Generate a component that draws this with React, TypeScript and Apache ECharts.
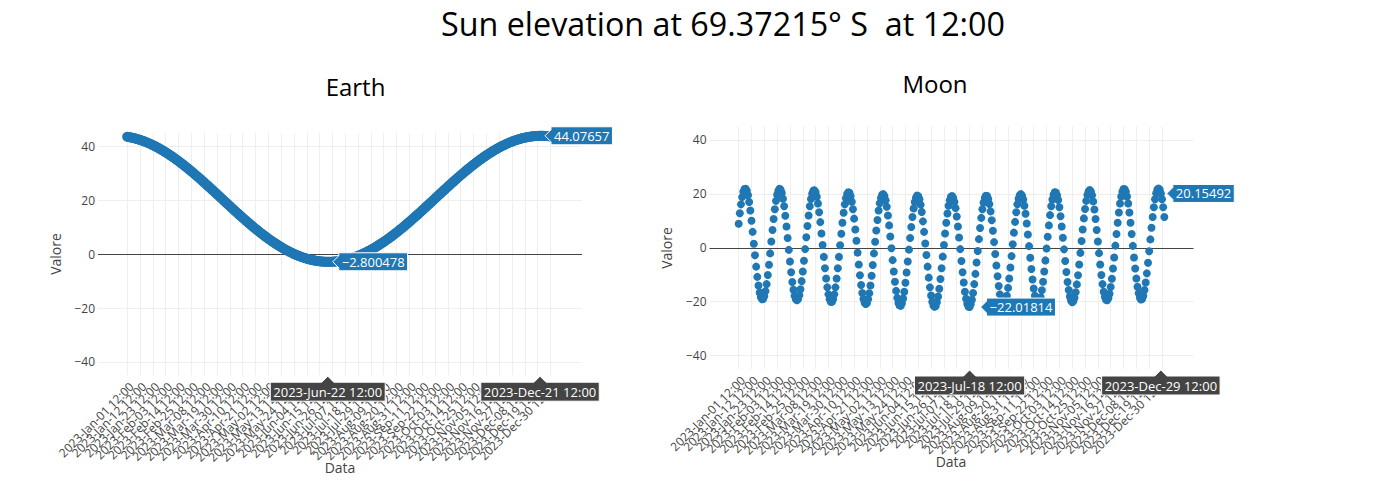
import React, { useEffect, useRef } from "react";
import * as echarts from "echarts";

const FONT = "'Open Sans', verdana, arial, sans-serif";

const MONTHS = ["Jan", "Feb", "Mar", "Apr", "May", "Jun", "Jul", "Aug", "Sep", "Oct", "Nov", "Dec"];
const MONTH_DAYS = [31, 28, 31, 30, 31, 30, 31, 31, 30, 31, 30, 31];

function buildCategories(): string[] {
  const out: string[] = [];
  for (let m = 0; m < 12; m++) {
    for (let d = 1; d <= MONTH_DAYS[m]; d++) {
      out.push(`2023-${MONTHS[m]}-${String(d).padStart(2, "0")} 12:00`);
    }
  }
  out.push("2024-Jan-01 12:00");
  return out;
}

const categories = buildCategories();

// every 11th category carries a tick label (split into two interleaved sets)
const tickIndex = [0, 11, 22, 33, 44, 55, 66, 77, 88, 99, 110, 121, 132, 143, 154, 165, 176, 187, 198, 209, 220, 231, 242, 253, 264, 275, 286, 297, 308, 319, 330, 341, 352, 363];
const tickIndexA = [0, 22, 44, 66, 88, 110, 132, 154, 176, 198, 220, 242, 264, 286, 308, 330, 352];
const tickIndexB = [11, 33, 55, 77, 99, 121, 143, 165, 187, 209, 231, 253, 275, 297, 319, 341, 363];
const yTicks = [-40, -20, 0, 20, 40];

const earthValues = [
  43.72, 43.65, 43.57, 43.49, 43.39, 43.29, 43.18, 43.08, 42.95, 42.82,
  42.70, 42.55, 42.41, 42.26, 42.10, 41.93, 41.76, 41.59, 41.40, 41.21,
  41.01, 40.81, 40.60, 40.39, 40.17, 39.94, 39.71, 39.47, 39.23, 38.98,
  38.73, 38.47, 38.21, 37.93, 37.66, 37.38, 37.09, 36.81, 36.51, 36.21,
  35.91, 35.60, 35.29, 34.97, 34.65, 34.33, 33.99, 33.67, 33.33, 32.98,
  32.64, 32.29, 31.94, 31.58, 31.23, 30.87, 30.50, 30.13, 29.76, 29.39,
  29.01, 28.64, 28.25, 27.87, 27.49, 27.10, 26.72, 26.32, 25.93, 25.53,
  25.14, 24.74, 24.35, 23.95, 23.55, 23.15, 22.74, 22.35, 21.94, 21.54,
  21.14, 20.73, 20.33, 19.92, 19.52, 19.11, 18.72, 18.31, 17.91, 17.52,
  17.11, 16.71, 16.32, 15.92, 15.53, 15.14, 14.74, 14.35, 13.97, 13.58,
  13.20, 12.81, 12.43, 12.06, 11.68, 11.31, 10.94, 10.57, 10.21, 9.86,
  9.50, 9.15, 8.79, 8.45, 8.10, 7.76, 7.43, 7.10, 6.77, 6.45,
  6.13, 5.81, 5.50, 5.20, 4.90, 4.60, 4.31, 4.02, 3.74, 3.46,
  3.19, 2.92, 2.66, 2.40, 2.15, 1.91, 1.67, 1.43, 1.21, 0.98,
  0.76, 0.55, 0.35, 0.15, -0.05, -0.24, -0.42, -0.58, -0.75, -0.92,
  -1.07, -1.22, -1.37, -1.50, -1.63, -1.76, -1.87, -1.98, -2.08, -2.18,
  -2.27, -2.35, -2.42, -2.49, -2.56, -2.62, -2.66, -2.70, -2.74, -2.77,
  -2.79, -2.80, -2.80,
  -2.80, -2.80, -2.79,
  -2.77, -2.74, -2.70, -2.66, -2.62, -2.56, -2.49, -2.42, -2.35, -2.27,
  -2.18, -2.08, -1.98, -1.87, -1.76, -1.63, -1.50, -1.37, -1.22, -1.07,
  -0.92, -0.75, -0.58, -0.42, -0.24, -0.05, 0.15, 0.35, 0.55, 0.76,
  0.98, 1.21, 1.43, 1.67, 1.91, 2.15, 2.40, 2.66, 2.92, 3.19,
  3.46, 3.74, 4.02, 4.31, 4.60, 4.90, 5.20, 5.50, 5.81, 6.13,
  6.45, 6.77, 7.10, 7.43, 7.76, 8.10, 8.45, 8.79, 9.15, 9.50,
  9.86, 10.21, 10.57, 10.94, 11.31, 11.68, 12.06, 12.43, 12.81, 13.20,
  13.58, 13.97, 14.35, 14.74, 15.14, 15.53, 15.92, 16.32, 16.71, 17.11,
  17.52, 17.91, 18.31, 18.72, 19.11, 19.52, 19.92, 20.33, 20.73, 21.14,
  21.54, 21.94, 22.35, 22.74, 23.15, 23.55, 23.95, 24.35, 24.74, 25.14,
  25.53, 25.93, 26.32, 26.72, 27.10, 27.49, 27.87, 28.25, 28.64, 29.01,
  29.39, 29.76, 30.13, 30.50, 30.87, 31.23, 31.58, 31.94, 32.29, 32.64,
  32.98, 33.33, 33.67, 33.99, 34.33, 34.65, 34.97, 35.29, 35.60, 35.91,
  36.21, 36.51, 36.81, 37.09, 37.38, 37.66, 37.93, 38.21, 38.47, 38.73,
  38.98, 39.23, 39.47, 39.71, 39.94, 40.17, 40.39, 40.60, 40.81, 41.01,
  41.21, 41.40, 41.59, 41.76, 41.93, 42.10, 42.26, 42.41, 42.55, 42.70,
  42.82, 42.95, 43.08, 43.18, 43.29, 43.39, 43.49, 43.57, 43.65, 43.72,
  43.79, 43.85, 43.90, 43.94, 43.98, 44.01, 44.04, 44.06, 44.08, 44.07,
  44.07, 44.06, 44.04, 44.01, 43.98, 43.94, 43.90, 43.85, 43.79, 43.72,
];

const moonValues = [
  8.9, 12.8, 16.1, 18.8, 20.8, 21.8, 21.9, 21.2, 19.5, 17.0,
  13.8, 10.0, 5.9, 1.5, -2.8, -7.0, -10.8, -14.0, -16.6, -18.3,
  -19.1, -19.0, -18.0, -16.1, -13.5, -10.1, -6.3, -2.1, 2.3, 6.6,
  10.7, 14.3, 17.4, 19.7, 21.2, 21.9, 21.5, 20.3, 18.2, 15.4,
  11.9, 7.9, 3.6, -0.8, -5.1, -9.1, -12.7, -15.6, -17.8, -19.1,
  -19.5, -19.0, -17.6, -15.4, -12.4, -8.8, -4.8, -0.5, 3.9, 8.1,
  12.0, 15.4, 18.1, 20.1, 21.2, 21.3, 20.6, 18.9, 16.4, 13.2,
  9.5, 5.3, 1.0, -3.4, -7.6, -11.4, -14.7, -17.3, -19.1, -20.1,
  -20.1, -19.1, -17.3, -14.7, -11.4, -7.6, -3.4, 0.9, 5.2, 9.3,
  13.0, 16.1, 18.4, 20.0, 20.6, 20.4, 19.2, 17.1, 14.3, 10.8,
  6.8, 2.6, -1.8, -6.2, -10.2, -13.8, -16.8, -19.0, -20.4, -20.9,
  -20.5, -19.1, -16.9, -14.0, -10.4, -6.4, -2.1, 2.2, 6.4, 10.3,
  13.8, 16.5, 18.5, 19.7, 19.9, 19.2, 17.6, 15.2, 12.0, 8.3,
  4.2, -0.2, -4.6, -8.8, -12.6, -16.0, -18.6, -20.5, -21.4, -21.5,
  -20.6, -18.8, -16.3, -13.0, -9.2, -5.1, -0.7, 3.6, 7.7, 11.4,
  14.6, 17.0, 18.6, 19.4, 19.1, 18.0, 16.0, 13.3, 9.8, 5.9,
  1.6, -2.7, -7.0, -11.1, -14.7, -17.7, -20.0, -21.4, -21.9, -21.6,
  -20.2, -18.1, -15.2, -11.6, -7.6, -3.3, 1.0, 5.3, 9.3, 12.7,
  15.6, 17.6, 18.9, 19.2, 18.5, 17.0, 14.7, 11.6, 7.9, 3.8,
  -0.5, -4.9, -9.1, -12.9, -16.3, -18.9, -20.8, -21.8, -22.02, -21.0,
  -19.3, -16.8, -13.5, -9.7, -5.5, -1.2, 3.2, 7.3, 11.1, 14.3,
  16.8, 18.5, 19.3, 19.2, 18.1, 16.2, 13.5, 10.2, 6.3, 2.1,
  -2.3, -6.6, -10.6, -14.2, -17.3, -19.6, -21.0, -21.6, -21.2, -19.9,
  -17.8, -14.9, -11.4, -7.3, -3.1, 1.3, 5.6, 9.6, 13.2, 16.1,
  18.2, 19.5, 19.9, 19.3, 17.9, 15.6, 12.6, 9.0, 4.9, 0.6,
  -3.7, -7.9, -11.8, -15.1, -17.8, -19.7, -20.8, -20.9, -20.1, -18.4,
  -15.8, -12.6, -8.8, -4.7, -0.3, 4.1, 8.3, 12.1, 15.4, 17.9,
  19.7, 20.6, 20.5, 19.5, 17.7, 15.0, 11.7, 7.9, 3.7, -0.6,
  -4.9, -9.0, -12.7, -15.7, -18.1, -19.6, -20.2, -19.9, -18.6, -16.5,
  -13.6, -10.2, -6.2, -1.9, 2.5, 6.8, 10.9, 14.4, 17.4, 19.6,
  20.9, 21.4, 20.9, 19.5, 17.2, 14.2, 10.7, 6.6, 2.3, -2.0,
  -6.2, -10.1, -13.5, -16.3, -18.2, -19.3, -19.5, -18.7, -17.1, -14.6,
  -11.5, -7.7, -3.6, 0.8, 5.1, 9.3, 13.1, 16.4, 19.0, 20.8,
  21.8, 21.7, 20.8, 19.0, 16.4, 13.1, 9.3, 5.1, 0.7, -3.6,
  -7.7, -11.4, -14.5, -16.9, -18.5, -19.2, -18.9, -17.8, -15.7, -12.9,
  -9.5, -5.6, -1.3, 3.1, 7.4, 11.4, 15.0, 18.0, 20.2, 21.6,
  22.0, 21.6, 20.15, 18.0, 15.0, 11.4,
];

// hovered points shown in the reference: category index and value label
const earthHover = [
  { index: 172, text: "\u22122.800478", gap: 5 },
  { index: 354, text: "44.07657", gap: 5 },
];
const moonHover = [
  { index: 198, text: "\u221222.01814", gap: 11 },
  { index: 362, text: "20.15492", gap: 6 },
];

const mainTitle = "Sun elevation at 69.37215\u00b0 S  at 12:00";
const panelTitles = ["Earth", "Moon"];

const GRIDS = [
  { left: 98, top: 133.3, width: 484, height: 241.9 },
  { left: 709.5, top: 126.5, width: 484, height: 242.5 },
];

const TITLE_POS = [
  { x: 355.5, y: 86.5 },
  { x: 935, y: 83.5 },
];
const YNAME_POS = [
  { x: 55.5, y: 254 },
  { x: 666, y: 248 },
];
const XNAME_POS = [
  { x: 340, y: 467 },
  { x: 951, y: 461 },
];

let measureCtx: CanvasRenderingContext2D | null = null;
function measure(text: string, size: number): number {
  if (!measureCtx) {
    const c = document.createElement("canvas");
    measureCtx = c.getContext("2d");
  }
  if (!measureCtx) return text.length * size * 0.57;
  measureCtx.font = `${size}px 'Open Sans'`;
  return measureCtx.measureText(text).width;
}

function xAxisFor(gi: number, labels: number[], withGrid: boolean) {
  return {
    type: "value",
    gridIndex: gi,
    position: "bottom",
    min: -25,
    max: 390,
    axisLine: { show: false },
    axisTick: { show: false, customValues: withGrid ? tickIndex : labels },
    splitLine: { show: withGrid, lineStyle: { color: "#eee", width: 1 } },
    axisLabel: {
      customValues: labels,
      formatter: (v: number) => categories[Math.round(v)] ?? "",
      rotate: 45,
      align: "right",
      verticalAlign: "top",
      margin: 5,
      showMinLabel: true,
      showMaxLabel: true,
      hideOverlap: false,
      color: "#444",
      fontSize: 12,
      fontFamily: FONT,
    },
  };
}

function buildOption() {
  const xAxes = [
    xAxisFor(0, tickIndexA, true),
    xAxisFor(0, tickIndexB, false),
    xAxisFor(1, tickIndexA, true),
    xAxisFor(1, tickIndexB, false),
  ];
  const yAxes = GRIDS.map((_, gi) => ({
    type: "value",
    gridIndex: gi,
    min: -45,
    max: 45,
    axisLine: { show: false },
    axisTick: { show: false, customValues: yTicks },
    splitLine: { show: true, lineStyle: { color: "#eee", width: 1 } },
    axisLabel: {
      customValues: yTicks,
      formatter: (v: number) => String(v).replace("-", "\u2212"),
      showMinLabel: true,
      showMaxLabel: true,
      color: "#444",
      fontSize: 12,
      fontFamily: FONT,
      margin: 3,
    },
  }));
  const mk = (xi: number, yi: number, values: number[], size: number) => ({
    type: "scatter",
    xAxisIndex: xi,
    yAxisIndex: yi,
    data: values.map((v, i) => [i, v]),
    symbol: "circle",
    symbolSize: size,
    itemStyle: { color: "#1f77b4", opacity: 1 },
    silent: true,
    z: 3,
    emphasis: { disabled: true },
    markLine: {
      silent: true,
      z: 1,
      symbol: ["none", "none"],
      label: { show: false },
      lineStyle: { color: "#444", width: 1, type: "solid" },
      emphasis: { disabled: true },
      data: [{ yAxis: 0 }],
    },
  });
  return {
    animation: false,
    backgroundColor: "#fff",
    textStyle: { fontFamily: FONT },
    grid: GRIDS.map((g) => ({ ...g, containLabel: false })),
    xAxis: xAxes,
    yAxis: yAxes,
    series: [mk(0, 0, earthValues, 10), mk(2, 1, moonValues, 8)],
  };
}

type Finder = { xAxisIndex: number; yAxisIndex: number };

function yHover(chart: any, finder: Finder, values: number[], h: { index: number; text: string; gap: number }) {
  const [px, py] = chart.convertToPixel(finder, [h.index, values[h.index]]);
  const tx = px + h.gap;
  const w = measure(h.text, 13) + 6;
  const bh = 18;
  return [
    {
      type: "polygon",
      z: 100,
      silent: true,
      shape: {
        points: [
          [tx, py],
          [tx + 6, py - 6],
          [tx + 6, py - bh / 2],
          [tx + 6 + w, py - bh / 2],
          [tx + 6 + w, py + bh / 2],
          [tx + 6, py + bh / 2],
          [tx + 6, py + 6],
        ],
      },
      style: { fill: "#1f77b4", stroke: "#fff", lineWidth: 1 },
    },
    {
      type: "text",
      z: 101,
      silent: true,
      x: tx + 9,
      y: py,
      style: { text: h.text, fill: "#fff", fontSize: 13, fontFamily: FONT, align: "left", verticalAlign: "middle" },
    },
  ];
}

function xHover(chart: any, finder: Finder, gi: number, values: number[], h: { index: number }) {
  const [px] = chart.convertToPixel(finder, [h.index, values[h.index]]);
  const g = GRIDS[gi];
  const tipY = g.top + g.height + 1;
  const text = categories[h.index];
  const w = measure(text, 13) + 6;
  const bh = 19;
  const top = tipY + 6;
  return [
    {
      type: "polygon",
      z: 100,
      silent: true,
      shape: {
        points: [
          [px, tipY],
          [px + 6, top],
          [px + w / 2, top],
          [px + w / 2, top + bh],
          [px - w / 2, top + bh],
          [px - w / 2, top],
          [px - 6, top],
        ],
      },
      style: { fill: "#444", stroke: "#fff", lineWidth: 1 },
    },
    {
      type: "text",
      z: 101,
      silent: true,
      x: px,
      y: top + bh / 2,
      style: { text, fill: "#fff", fontSize: 13, fontFamily: FONT, align: "center", verticalAlign: "middle" },
    },
  ];
}

export default function App() {
  const ref = useRef<HTMLDivElement>(null);
  useEffect(() => {
    document.body.style.margin = "0";
    const el = ref.current;
    if (!el) return;
    const chart = echarts.init(el, undefined, { renderer: "svg" });
    chart.setOption(buildOption() as any);

    const elements: any[] = [
      {
        type: "text",
        x: 723,
        y: 23,
        silent: true,
        style: { text: mainTitle, fill: "#000", fontSize: 32.3, fontFamily: FONT, align: "center", verticalAlign: "middle" },
      },
    ];
    panelTitles.forEach((t, i) => {
      elements.push({
        type: "text",
        x: TITLE_POS[i].x,
        y: TITLE_POS[i].y,
        silent: true,
        style: { text: t, fill: "#000", fontSize: 24, fontFamily: FONT, align: "center", verticalAlign: "middle" },
      });
      elements.push({
        type: "text",
        x: YNAME_POS[i].x,
        y: YNAME_POS[i].y,
        rotation: Math.PI / 2,
        silent: true,
        style: { text: "Valore", fill: "#444", fontSize: 14, fontFamily: FONT, align: "center", verticalAlign: "middle" },
      });
      elements.push({
        type: "text",
        x: XNAME_POS[i].x,
        y: XNAME_POS[i].y,
        silent: true,
        style: { text: "Data", fill: "#444", fontSize: 14, fontFamily: FONT, align: "center", verticalAlign: "middle" },
      });
    });
    const earthFinder = { xAxisIndex: 0, yAxisIndex: 0 };
    const moonFinder = { xAxisIndex: 2, yAxisIndex: 1 };
    earthHover.forEach((h) => {
      elements.push(...yHover(chart, earthFinder, earthValues, h));
      elements.push(...xHover(chart, earthFinder, 0, earthValues, h));
    });
    moonHover.forEach((h) => {
      elements.push(...yHover(chart, moonFinder, moonValues, h));
      elements.push(...xHover(chart, moonFinder, 1, moonValues, h));
    });
    chart.setOption({ graphic: { elements } } as any);

    return () => {
      chart.dispose();
    };
  }, []);
  return <div ref={ref} style={{ width: 1389, height: 482 }} />;
}
